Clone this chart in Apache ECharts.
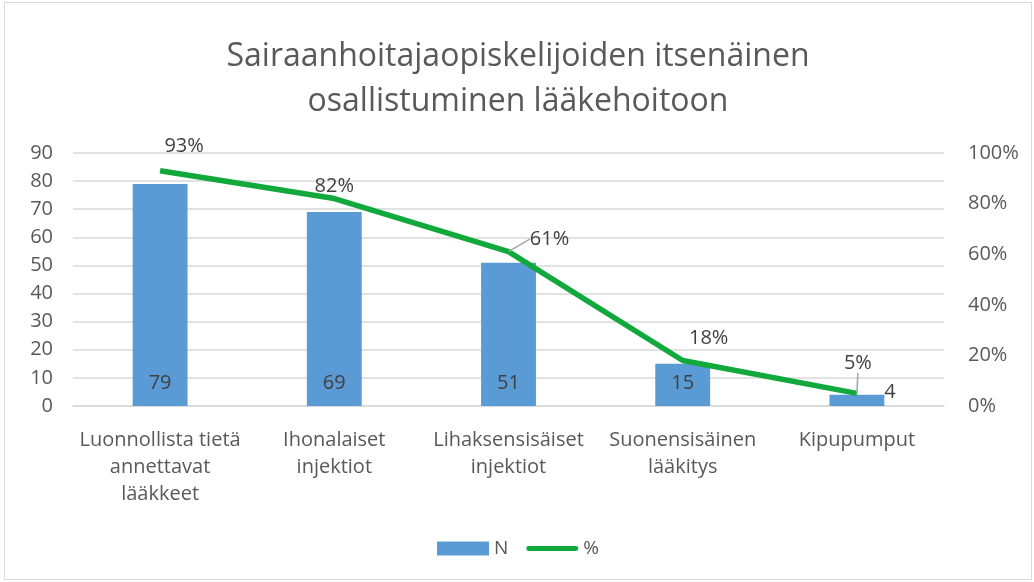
<!DOCTYPE html>
<html>
<head>
<meta charset="utf-8">
<script src="https://cdn.jsdelivr.net/npm/echarts@6/dist/echarts.min.js"></script>
<style>
  html, body { margin: 0; padding: 0; background: #fff; }
  #main { position: absolute; left: 4px; top: 2px; width: 1028px; height: 578px; border: 1px solid #d9d9d9; box-sizing: border-box; }
</style>
</head>
<body>
<div id="main"></div>
<script>
var categories = ['Luonnollista tietä\nannettavat\nlääkkeet', 'Ihonalaiset\ninjektiot', 'Lihaksensisäiset\ninjektiot', 'Suonensisäinen\nlääkitys', 'Kipupumput'];
var nValues = [79, 69, 51, 15, 4];
var pctValues = [93, 82, 61, 18, 5];

var FONT = 'Open Sans';
var txt = '#595959';
var green = '#11a83c';

// label nudges for the % line (Excel had them dragged around a bit)
var pctShift = [[24, -8], [0, 4], [41, 4], [26, -6], [1, -14]];

var chart = echarts.init(document.getElementById('main'));

var option = {
  textStyle: { fontFamily: FONT },
  title: {
    text: 'Sairaanhoitajaopiskelijoiden itsenäinen\nosallistuminen lääkehoitoon',
    left: 'center',
    top: 26,
    textStyle: { fontFamily: FONT, fontSize: 32, fontWeight: 'normal', color: txt, lineHeight: 45 }
  },
  legend: {
    bottom: 16,
    left: 'center',
    itemWidth: 52,
    itemHeight: 14,
    itemGap: 18,
    textStyle: { fontFamily: FONT, fontSize: 19, color: txt },
    data: [
      { name: 'N', icon: 'rect' },
      { name: '%', icon: 'path://M2,0 L50,0 A2.5,2.5 0 0 1 50,5 L2,5 A2.5,2.5 0 0 1 2,0 Z', itemStyle: { color: green } }
    ]
  },
  grid: { left: 68, right: 87, top: 150, bottom: 173 },
  xAxis: {
    type: 'category',
    data: categories,
    axisTick: { show: false },
    axisLine: { lineStyle: { color: '#d9d9d9', width: 1.5 } },
    axisLabel: { fontFamily: FONT, fontSize: 20, color: txt, margin: 21, lineHeight: 27, interval: 0 }
  },
  yAxis: [
    {
      type: 'value', min: 0, max: 90, interval: 10,
      axisLine: { show: false }, axisTick: { show: false },
      splitLine: { lineStyle: { color: '#d9d9d9', width: 1.5 } },
      axisLabel: { fontFamily: FONT, fontSize: 20, color: txt, margin: 20 }
    },
    {
      type: 'value', min: 0, max: 100, interval: 20,
      axisLine: { show: false }, axisTick: { show: false },
      splitLine: { show: false },
      axisLabel: { fontFamily: FONT, fontSize: 20, color: txt, margin: 24, formatter: '{value}%' }
    }
  ],
  series: [
    {
      name: 'N',
      type: 'bar',
      barWidth: '31.5%',
      itemStyle: { color: '#5b9bd5' },
      data: nValues.map(function (v, i) {
        var d = { value: v };
        if (i === nValues.length - 1) {
          d.label = { position: 'right', distance: 0, offset: [0, -8] };
        }
        return d;
      }),
      label: {
        show: true, position: 'insideBottom', distance: 13,
        fontFamily: FONT, fontSize: 20, color: '#404040'
      },
      z: 2
    },
    {
      name: '%',
      type: 'line',
      yAxisIndex: 1,
      data: pctValues.map(function (v, i) {
        var d = { value: v };
        if (i === 2 || i === 4) d.labelLine = { show: true };
        return d;
      }),
      symbol: 'circle',
      symbolSize: 1,
      showSymbol: true,
      lineStyle: { color: green, width: 5.5 },
      itemStyle: { color: green },
      label: {
        show: true, position: 'top', distance: 6,
        fontFamily: FONT, fontSize: 20, color: '#404040',
        formatter: '{c}%'
      },
      labelLine: { show: false, lineStyle: { color: '#a6a6a6', width: 1.5 } },
      labelLayout: function (p) {
        var s = pctShift[p.dataIndex];
        return { dx: s[0], dy: s[1] };
      },
      z: 3
    }
  ]
};

chart.setOption(option);
</script>
</body>
</html>
